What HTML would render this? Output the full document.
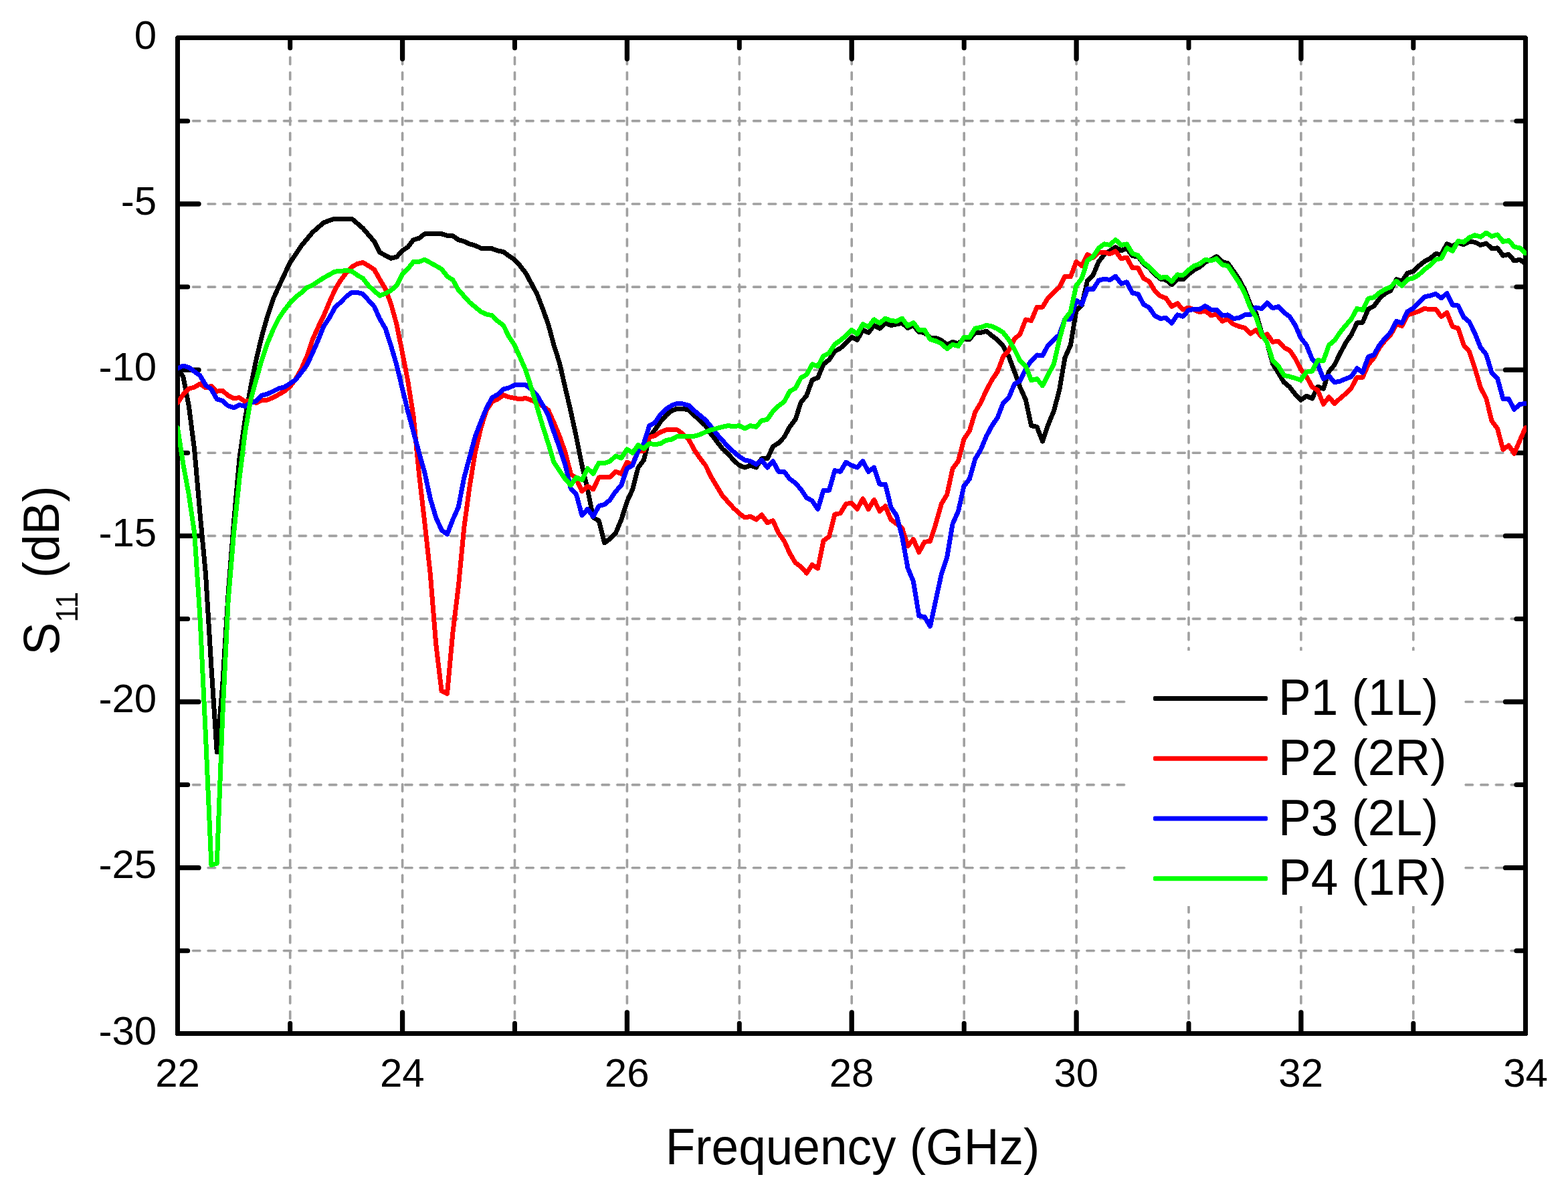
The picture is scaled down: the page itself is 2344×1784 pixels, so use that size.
<!DOCTYPE html>
<html lang="en"><head><meta charset="utf-8">
<title>S11 (dB) vs Frequency (GHz)</title>
<style>
html,body{margin:0;padding:0;background:#fff;}
body{width:2344px;height:1784px;overflow:hidden;}
svg{display:block;}
text{font-family:"Liberation Sans", sans-serif;fill:#000;}
.tk{font-size:60px;}
.lb{font-size:73px;}
.lg{font-size:73px;}
.grid line{stroke:#a0a0a0;stroke-width:3.6;stroke-dasharray:12.4 10.25;fill:none;}
.tip line{stroke-width:1.4;stroke-dasharray:14.20 8.45;}
.ticks line{stroke:#000;stroke-width:7;stroke-linecap:round;}
.ticks line.mj{stroke-width:7.3;}
.curve{fill:none;stroke-width:7;stroke-linejoin:round;stroke-linecap:round;}
.lgl line{stroke-width:7;stroke-linecap:round;}
</style></head><body>
<svg width="2344" height="1784" viewBox="0 0 2344 1784" role="img" aria-label="S11 versus frequency for ports P1 to P4">
<rect x="0" y="0" width="2344" height="1784" fill="#fff"/>
<g class="grid">
<line x1="433.7" y1="56.5" x2="433.7" y2="1545.5" stroke-dashoffset="-5.50"/>
<line x1="601.6" y1="56.5" x2="601.6" y2="1545.5" stroke-dashoffset="-5.50"/>
<line x1="769.5" y1="56.5" x2="769.5" y2="1545.5" stroke-dashoffset="-5.50"/>
<line x1="937.4" y1="56.5" x2="937.4" y2="1545.5" stroke-dashoffset="-5.50"/>
<line x1="1105.3" y1="56.5" x2="1105.3" y2="1545.5" stroke-dashoffset="-5.50"/>
<line x1="1273.2" y1="56.5" x2="1273.2" y2="1545.5" stroke-dashoffset="-5.50"/>
<line x1="1441.2" y1="56.5" x2="1441.2" y2="1545.5" stroke-dashoffset="-5.50"/>
<line x1="1609.1" y1="56.5" x2="1609.1" y2="1545.5" stroke-dashoffset="-5.50"/>
<line x1="1777" y1="56.5" x2="1777" y2="1545.5" stroke-dashoffset="-5.50"/>
<line x1="1944.9" y1="56.5" x2="1944.9" y2="1545.5" stroke-dashoffset="-5.50"/>
<line x1="2112.8" y1="56.5" x2="2112.8" y2="1545.5" stroke-dashoffset="-5.50"/>
<line x1="265.5" y1="180.9" x2="2280.5" y2="180.9" stroke-dashoffset="0.65"/>
<line x1="265.5" y1="305" x2="2280.5" y2="305" stroke-dashoffset="0.65"/>
<line x1="265.5" y1="429.1" x2="2280.5" y2="429.1" stroke-dashoffset="0.65"/>
<line x1="265.5" y1="553.2" x2="2280.5" y2="553.2" stroke-dashoffset="0.65"/>
<line x1="265.5" y1="677.3" x2="2280.5" y2="677.3" stroke-dashoffset="0.65"/>
<line x1="265.5" y1="801.4" x2="2280.5" y2="801.4" stroke-dashoffset="0.65"/>
<line x1="265.5" y1="925.4" x2="2280.5" y2="925.4" stroke-dashoffset="0.65"/>
<line x1="265.5" y1="1049.5" x2="2280.5" y2="1049.5" stroke-dashoffset="0.65"/>
<line x1="265.5" y1="1173.6" x2="2280.5" y2="1173.6" stroke-dashoffset="0.65"/>
<line x1="265.5" y1="1297.7" x2="2280.5" y2="1297.7" stroke-dashoffset="0.65"/>
<line x1="265.5" y1="1421.8" x2="2280.5" y2="1421.8" stroke-dashoffset="0.65"/>
</g>
<g class="grid tip">
<line x1="433.7" y1="56.5" x2="433.7" y2="1545.5" stroke-dashoffset="-4.60"/>
<line x1="601.6" y1="56.5" x2="601.6" y2="1545.5" stroke-dashoffset="-4.60"/>
<line x1="769.5" y1="56.5" x2="769.5" y2="1545.5" stroke-dashoffset="-4.60"/>
<line x1="937.4" y1="56.5" x2="937.4" y2="1545.5" stroke-dashoffset="-4.60"/>
<line x1="1105.3" y1="56.5" x2="1105.3" y2="1545.5" stroke-dashoffset="-4.60"/>
<line x1="1273.2" y1="56.5" x2="1273.2" y2="1545.5" stroke-dashoffset="-4.60"/>
<line x1="1441.2" y1="56.5" x2="1441.2" y2="1545.5" stroke-dashoffset="-4.60"/>
<line x1="1609.1" y1="56.5" x2="1609.1" y2="1545.5" stroke-dashoffset="-4.60"/>
<line x1="1777" y1="56.5" x2="1777" y2="1545.5" stroke-dashoffset="-4.60"/>
<line x1="1944.9" y1="56.5" x2="1944.9" y2="1545.5" stroke-dashoffset="-4.60"/>
<line x1="2112.8" y1="56.5" x2="2112.8" y2="1545.5" stroke-dashoffset="-4.60"/>
<line x1="265.5" y1="180.9" x2="2280.5" y2="180.9" stroke-dashoffset="1.55"/>
<line x1="265.5" y1="305" x2="2280.5" y2="305" stroke-dashoffset="1.55"/>
<line x1="265.5" y1="429.1" x2="2280.5" y2="429.1" stroke-dashoffset="1.55"/>
<line x1="265.5" y1="553.2" x2="2280.5" y2="553.2" stroke-dashoffset="1.55"/>
<line x1="265.5" y1="677.3" x2="2280.5" y2="677.3" stroke-dashoffset="1.55"/>
<line x1="265.5" y1="801.4" x2="2280.5" y2="801.4" stroke-dashoffset="1.55"/>
<line x1="265.5" y1="925.4" x2="2280.5" y2="925.4" stroke-dashoffset="1.55"/>
<line x1="265.5" y1="1049.5" x2="2280.5" y2="1049.5" stroke-dashoffset="1.55"/>
<line x1="265.5" y1="1173.6" x2="2280.5" y2="1173.6" stroke-dashoffset="1.55"/>
<line x1="265.5" y1="1297.7" x2="2280.5" y2="1297.7" stroke-dashoffset="1.55"/>
<line x1="265.5" y1="1421.8" x2="2280.5" y2="1421.8" stroke-dashoffset="1.55"/>
</g>
<rect x="1683" y="973" width="506" height="382" fill="#fff"/>
<rect x="265.5" y="56.5" width="2015" height="1489" fill="none" stroke="#000" stroke-width="7" stroke-linejoin="round" shape-rendering="crispEdges"/>
<g class="ticks">
<line x1="433.7" y1="1542.5" x2="433.7" y2="1530.3"/>
<line x1="433.7" y1="59.5" x2="433.7" y2="71.7"/>
<line class="mj" x1="601.6" y1="1542.5" x2="601.6" y2="1514"/>
<line class="mj" x1="601.6" y1="59.5" x2="601.6" y2="88"/>
<line x1="769.5" y1="1542.5" x2="769.5" y2="1530.3"/>
<line x1="769.5" y1="59.5" x2="769.5" y2="71.7"/>
<line class="mj" x1="937.4" y1="1542.5" x2="937.4" y2="1514"/>
<line class="mj" x1="937.4" y1="59.5" x2="937.4" y2="88"/>
<line x1="1105.3" y1="1542.5" x2="1105.3" y2="1530.3"/>
<line x1="1105.3" y1="59.5" x2="1105.3" y2="71.7"/>
<line class="mj" x1="1273.2" y1="1542.5" x2="1273.2" y2="1514"/>
<line class="mj" x1="1273.2" y1="59.5" x2="1273.2" y2="88"/>
<line x1="1441.2" y1="1542.5" x2="1441.2" y2="1530.3"/>
<line x1="1441.2" y1="59.5" x2="1441.2" y2="71.7"/>
<line class="mj" x1="1609.1" y1="1542.5" x2="1609.1" y2="1514"/>
<line class="mj" x1="1609.1" y1="59.5" x2="1609.1" y2="88"/>
<line x1="1777" y1="1542.5" x2="1777" y2="1530.3"/>
<line x1="1777" y1="59.5" x2="1777" y2="71.7"/>
<line class="mj" x1="1944.9" y1="1542.5" x2="1944.9" y2="1514"/>
<line class="mj" x1="1944.9" y1="59.5" x2="1944.9" y2="88"/>
<line x1="2112.8" y1="1542.5" x2="2112.8" y2="1530.3"/>
<line x1="2112.8" y1="59.5" x2="2112.8" y2="71.7"/>
<line x1="268.5" y1="180.9" x2="280.7" y2="180.9"/>
<line x1="2277.5" y1="180.9" x2="2266.8" y2="180.9"/>
<line class="mj" x1="268.5" y1="305" x2="297" y2="305"/>
<line class="mj" x1="2277.5" y1="305" x2="2250.5" y2="305"/>
<line x1="268.5" y1="429.1" x2="280.7" y2="429.1"/>
<line x1="2277.5" y1="429.1" x2="2266.8" y2="429.1"/>
<line class="mj" x1="268.5" y1="553.2" x2="297" y2="553.2"/>
<line class="mj" x1="2277.5" y1="553.2" x2="2250.5" y2="553.2"/>
<line x1="268.5" y1="677.3" x2="280.7" y2="677.3"/>
<line x1="2277.5" y1="677.3" x2="2266.8" y2="677.3"/>
<line class="mj" x1="268.5" y1="801.4" x2="297" y2="801.4"/>
<line class="mj" x1="2277.5" y1="801.4" x2="2250.5" y2="801.4"/>
<line x1="268.5" y1="925.4" x2="280.7" y2="925.4"/>
<line x1="2277.5" y1="925.4" x2="2266.8" y2="925.4"/>
<line class="mj" x1="268.5" y1="1049.5" x2="297" y2="1049.5"/>
<line class="mj" x1="2277.5" y1="1049.5" x2="2250.5" y2="1049.5"/>
<line x1="268.5" y1="1173.6" x2="280.7" y2="1173.6"/>
<line x1="2277.5" y1="1173.6" x2="2266.8" y2="1173.6"/>
<line class="mj" x1="268.5" y1="1297.7" x2="297" y2="1297.7"/>
<line class="mj" x1="2277.5" y1="1297.7" x2="2250.5" y2="1297.7"/>
<line x1="268.5" y1="1421.8" x2="280.7" y2="1421.8"/>
<line x1="2277.5" y1="1421.8" x2="2266.8" y2="1421.8"/>
</g>
<defs><clipPath id="clip"><rect x="266" y="56.5" width="2016" height="1489"/></clipPath></defs>
<g clip-path="url(#clip)" shape-rendering="crispEdges">
<polyline class="curve" stroke="#000000" points="265.5,551.7 273.9,563.4 282.3,607 290.7,672.5 299.1,768.9 307.5,858.6 315.9,997.1 324.3,1125 332.7,1023.9 341.1,888.3 349.5,781.1 357.9,685.9 366.3,626.8 374.6,579.6 383,537.9 391.4,502.7 399.8,472.9 408.2,447.6 416.6,428.8 425,410.8 433.4,392.9 441.8,380.5 450.2,367.9 458.6,357.8 467,347.7 475.4,340.3 483.8,332.9 492.2,329.9 500.6,327 509,327 517.4,327 525.8,327 534.2,334.2 542.6,341.4 551,351.2 559.4,361 567.8,377.3 576.1,382 584.5,386.2 592.9,384.3 601.3,375 609.7,369.5 618.1,358.6 626.5,356.3 634.9,349.7 643.3,349.7 651.7,349.7 660.1,349.7 668.5,352.4 676.9,352.7 685.3,358.6 693.7,361 702.1,364.9 710.5,367.2 718.9,371.1 727.3,371.6 735.7,371.9 744.1,375 752.5,376.5 760.9,382.8 769.2,388.2 777.6,397.6 786,408.5 794.4,424.1 802.8,439.7 811.2,461.5 819.6,484.9 828,516.1 836.4,542.6 844.8,579 853.2,614.9 861.6,653.8 870,695.9 878.4,731.8 886.8,773.9 895.2,778.6 903.6,811.8 912,805.6 920.4,797.3 928.8,777 937.2,750.5 945.6,731.8 954,699.1 962.4,688.1 970.7,653.8 979.1,642.9 987.5,630.5 995.9,621.1 1004.3,614.1 1012.7,611 1021.1,611 1029.5,613.3 1037.9,621.1 1046.3,628.9 1054.7,636.7 1063.1,649.2 1071.5,660.1 1079.9,671 1088.3,678.8 1096.7,688.1 1105.1,695.9 1113.5,699.1 1121.9,695.9 1130.3,699.1 1138.7,685.8 1147.1,685.8 1155.5,667.9 1163.9,662.4 1172.2,653.8 1180.6,638.3 1189,627.3 1197.4,601.6 1205.8,591.4 1214.2,568.1 1222.6,564.9 1231,544.7 1239.4,538.1 1247.8,525.5 1256.2,520.8 1264.6,513 1273,504 1281.4,508.3 1289.8,493.5 1298.2,497.4 1306.6,486.5 1315,491.1 1323.4,483.3 1331.8,486.5 1340.2,484.9 1348.6,483.3 1357,490.4 1365.4,486.5 1373.8,496.6 1382.1,497.4 1390.5,505.2 1398.9,505.2 1407.3,509.1 1415.7,515.3 1424.1,511.4 1432.5,513.8 1440.9,506.8 1449.3,507.5 1457.7,497.4 1466.1,497.4 1474.5,495.1 1482.9,502.1 1491.3,508.3 1499.7,517.7 1508.1,533.3 1516.5,555.6 1524.9,579 1533.3,597.7 1541.7,636.7 1550.1,638.3 1558.5,660.1 1566.9,635.1 1575.3,614.9 1583.6,583.7 1592,534.8 1600.4,516.1 1608.8,464.6 1617.2,456.8 1625.6,419.4 1634,411.6 1642.4,391.4 1650.8,380.5 1659.2,375 1667.6,369.5 1676,375 1684.4,371.1 1692.8,382.8 1701.2,383.6 1709.6,394.5 1718,400.7 1726.4,410.1 1734.8,417.1 1743.2,418.6 1751.6,425.7 1760,417.9 1768.4,417.9 1776.8,410.1 1785.1,403.8 1793.5,399.2 1801.9,392.1 1810.3,388.2 1818.7,383.6 1827.1,391.4 1835.5,393.7 1843.9,405.4 1852.3,417.9 1860.7,433.5 1869.1,455.3 1877.5,467.8 1885.9,497.4 1894.3,513 1902.7,544.2 1911.1,557.8 1919.5,571.7 1927.9,578.7 1936.3,589.6 1944.7,598.2 1953.1,592.2 1961.5,596 1969.9,578.2 1978.3,581.4 1986.6,555.7 1995,545.6 2003.4,528.3 2011.8,512.6 2020.2,500.4 2028.6,483 2037,482.2 2045.4,462.2 2053.8,457.8 2062.2,446.5 2070.6,438.7 2079,434.4 2087.4,417.8 2095.8,420.4 2104.2,408.3 2112.6,405.7 2121,397.8 2129.4,390.9 2137.8,386.5 2146.2,379.6 2154.6,380.5 2163,364.8 2171.4,368.2 2179.8,363 2188.1,365.7 2196.5,361.3 2204.9,362.2 2213.3,366.5 2221.7,363.9 2230.1,371.7 2238.5,370.9 2246.9,382.2 2255.3,380.5 2263.7,390 2272.1,388.2 2280.5,394.4"/>
<polyline class="curve" stroke="#ff0000" points="265.5,602.4 273.9,589.9 282.3,581.3 290.7,579 299.1,574 307.5,579.8 315.9,577.4 324.3,585.2 332.7,584.4 341.1,591.4 349.5,595.8 357.9,594.6 366.3,600.5 374.6,598.5 383,602.4 391.4,598.5 399.8,598 408.2,594.6 416.6,589.9 425,585.2 433.4,578.2 441.8,567.3 450.2,552.5 458.6,533.3 467,508.3 475.4,489.6 483.8,472.4 492.2,452.2 500.6,433.5 509,419.4 517.4,408.5 525.8,399.2 534.2,394.5 542.6,392.6 551,397.6 559.4,403 567.8,417.9 576.1,431.9 584.5,454.5 592.9,484.8 601.3,526.5 609.7,569.6 618.1,622.7 626.5,709.2 634.9,781.7 643.3,858.6 651.7,963.1 660.1,1033.3 668.5,1037.2 676.9,945.9 685.3,877.3 693.7,789.5 702.1,727.1 710.5,675.7 718.9,639.8 727.3,613.3 735.7,600.8 744.1,596.9 752.5,590.7 760.9,593.8 769.2,595.4 777.6,596.9 786,595.4 794.4,598.5 802.8,602.4 811.2,607 819.6,613.3 828,632 836.4,652.3 844.8,675.7 853.2,708.4 861.6,716.2 870,734.9 878.4,727.1 886.8,731.8 895.2,713.9 903.6,713.9 912,713.1 920.4,705.3 928.8,708.4 937.2,691.3 945.6,694.4 954,674.1 962.4,674.1 970.7,653.8 979.1,651.5 987.5,646 995.9,642.9 1004.3,642.1 1012.7,642.9 1021.1,649.2 1029.5,657 1037.9,672.5 1046.3,685 1054.7,695.9 1063.1,713.1 1071.5,727.1 1079.9,741.1 1088.3,750.5 1096.7,759.9 1105.1,767.6 1113.5,773.9 1121.9,772.4 1130.3,777 1138.7,770 1147.1,781.7 1155.5,778.6 1163.9,797.3 1172.2,808.7 1180.6,827.4 1189,841.5 1197.4,847.7 1205.8,857 1214.2,844.6 1222.6,850 1231,808.7 1239.4,802.5 1247.8,769.2 1256.2,767.6 1264.6,753.6 1273,752.1 1281.4,761.4 1289.8,745.9 1298.2,761.4 1306.6,747.4 1315,764.6 1323.4,756.8 1331.8,777 1340.2,783.3 1348.6,789.5 1357,816.5 1365.4,806.4 1373.8,825.9 1382.1,810.3 1390.5,809.5 1398.9,783.3 1407.3,753.6 1415.7,739.6 1424.1,700.6 1432.5,689.7 1440.9,657 1449.3,644.5 1457.7,616.4 1466.1,602.4 1474.5,583.7 1482.9,568.1 1491.3,555.6 1499.7,533.3 1508.1,523.9 1516.5,506.8 1524.9,499.7 1533.3,477.9 1541.7,479.5 1550.1,459.2 1558.5,459.2 1566.9,445.2 1575.3,437.4 1583.6,429.5 1592,413.2 1600.4,414 1608.8,391.4 1617.2,397.6 1625.6,380.5 1634,385.1 1642.4,377.3 1650.8,377.3 1659.2,379.7 1667.6,375.7 1676,386.7 1684.4,385.1 1692.8,400.7 1701.2,400.7 1709.6,416.3 1718,421 1726.4,435 1734.8,442.8 1743.2,445.9 1751.6,458.4 1760,453.7 1768.4,463.1 1776.8,460 1785.1,463.1 1793.5,467 1801.9,464.6 1810.3,471.7 1818.7,470.1 1827.1,480.3 1835.5,477.1 1843.9,484.9 1852.3,488.1 1860.7,490.4 1869.1,499 1877.5,493.5 1885.9,503.6 1894.3,499.7 1902.7,511.4 1911.1,510 1919.5,519.6 1927.9,523.9 1936.3,536.1 1944.7,552.6 1953.1,563.1 1961.5,578.7 1969.9,583.5 1978.3,604.4 1986.6,593.9 1995,603.5 2003.4,595.7 2011.8,588.7 2020.2,580 2028.6,564.3 2037,564.3 2045.4,545.2 2053.8,535.2 2062.2,519.6 2070.6,509.1 2079,500.4 2087.4,484.8 2095.8,487.4 2104.2,470.9 2112.6,468.3 2121,465.6 2129.4,461.3 2137.8,463 2146.2,462.2 2154.6,473.5 2163,467.4 2171.4,488.3 2179.8,490.9 2188.1,516.1 2196.5,525.6 2204.9,550.8 2213.3,579.6 2221.7,595.7 2230.1,629.6 2238.5,640.9 2246.9,672.2 2255.3,666.1 2263.7,678.3 2272.1,658.3 2280.5,639.7"/>
<polyline class="curve" stroke="#0000ff" points="265.5,550.9 273.9,547 282.3,549.4 290.7,555.6 299.1,561.8 307.5,575.9 315.9,582.1 324.3,596.9 332.7,599.2 341.1,607 349.5,609.7 357.9,605.5 366.3,607.5 374.6,602.4 383,600 391.4,591.4 399.8,589.1 408.2,585.2 416.6,580.9 425,579 433.4,573.5 441.8,568.1 450.2,557.2 458.6,546.2 467,528.3 475.4,509.2 483.8,488.1 492.2,475.6 500.6,460 509,452.2 517.4,443.6 525.8,437.4 534.2,437.4 542.6,439.7 551,449.1 559.4,458.4 567.8,477.1 576.1,491.1 584.5,516.9 592.9,545.8 601.3,580.5 609.7,614.9 618.1,646 626.5,677.2 634.9,706.8 643.3,745.9 651.7,773.9 660.1,792.6 668.5,798.9 676.9,777 685.3,758.3 693.7,714.6 702.1,683.5 710.5,652.3 718.9,630.5 727.3,610.2 735.7,594.6 744.1,589.9 752.5,582.1 760.9,579.8 769.2,575.9 777.6,575.9 786,575.9 794.4,582.1 802.8,591.4 811.2,605.5 819.6,621.1 828,646 836.4,669.4 844.8,694.4 853.2,730.2 861.6,739.6 870,770.8 878.4,761.4 886.8,772.4 895.2,756.8 903.6,754.4 912,747.4 920.4,734.9 928.8,725.6 937.2,700.6 945.6,695.9 954,674.1 962.4,663.2 970.7,636.7 979.1,632 987.5,619.5 995.9,611.7 1004.3,606.3 1012.7,603.2 1021.1,604 1029.5,606.3 1037.9,614.1 1046.3,621.1 1054.7,628.1 1063.1,638.3 1071.5,649.2 1079.9,658.5 1088.3,667.9 1096.7,675.7 1105.1,682.7 1113.5,688.1 1121.9,689.7 1130.3,694.4 1138.7,688.1 1147.1,699.1 1155.5,689.7 1163.9,705.3 1172.2,705.3 1180.6,716.2 1189,722.4 1197.4,731.8 1205.8,744.3 1214.2,748.9 1222.6,761.4 1231,733.3 1239.4,733.3 1247.8,703.7 1256.2,705.3 1264.6,691.3 1273,695.9 1281.4,699.1 1289.8,689.7 1298.2,705.3 1306.6,699.1 1315,724 1323.4,724 1331.8,758.3 1340.2,770.8 1348.6,802.5 1357,849.2 1365.4,869.5 1373.8,921 1382.1,922.6 1390.5,936.6 1398.9,897.6 1407.3,858.6 1415.7,833.7 1424.1,783.3 1432.5,764.6 1440.9,727.1 1449.3,716.2 1457.7,686.6 1466.1,672.5 1474.5,652.3 1482.9,636.7 1491.3,624.2 1499.7,602.4 1508.1,594.6 1516.5,574.3 1524.9,569.6 1533.3,551.7 1541.7,539.5 1550.1,530.9 1558.5,531.7 1566.9,516.1 1575.3,508.3 1583.6,500.5 1592,477.1 1600.4,477.1 1608.8,449.1 1617.2,455.3 1625.6,431.9 1634,432.7 1642.4,419.4 1650.8,417.1 1659.2,418.6 1667.6,413.2 1676,424.1 1684.4,421.8 1692.8,438.1 1701.2,439.7 1709.6,455.3 1718,460 1726.4,472.4 1734.8,476.3 1743.2,475.6 1751.6,483.3 1760,470.9 1768.4,473.2 1776.8,463.9 1785.1,462.3 1793.5,462.3 1801.9,457.6 1810.3,463.1 1818.7,463.1 1827.1,471.7 1835.5,470.9 1843.9,476.3 1852.3,475.6 1860.7,470.9 1869.1,470.9 1877.5,460 1885.9,461.5 1894.3,453 1902.7,460.8 1911.1,458.7 1919.5,467.4 1927.9,473.5 1936.3,486.5 1944.7,505.6 1953.1,516.1 1961.5,537 1969.9,544.8 1978.3,566.5 1986.6,562.2 1995,571.7 2003.4,570 2011.8,566.5 2020.2,563.1 2028.6,550.8 2037,557 2045.4,533.5 2053.8,530.8 2062.2,516.1 2070.6,505.6 2079,496.9 2087.4,480.4 2095.8,483 2104.2,465.6 2112.6,461.3 2121,452.6 2129.4,443.9 2137.8,442.2 2146.2,439.6 2154.6,445.7 2163,438.7 2171.4,456.1 2179.8,456.9 2188.1,474.4 2196.5,481.3 2204.9,498.7 2213.3,519.6 2221.7,530 2230.1,557.8 2238.5,565.6 2246.9,596.5 2255.3,596.5 2263.7,612.2 2272.1,604.4 2280.5,603.5"/>
<polyline class="curve" stroke="#00ff00" points="265.5,639.8 273.9,694.4 282.3,739.6 290.7,797.3 299.1,924.9 307.5,1101.3 315.9,1293.4 324.3,1291.1 332.7,1071.2 341.1,899.2 349.5,797.5 357.9,716.2 366.3,647.1 374.6,598.5 383,567.7 391.4,537.9 399.8,513.1 408.2,493.3 416.6,476.4 425,464 433.4,453.1 441.8,444.4 450.2,438.1 458.6,430.3 467,426.5 475.4,421 483.8,415.5 492.2,410.8 500.6,406.2 509,405.4 517.4,404.6 525.8,405.4 534.2,411.6 542.6,416.3 551,427.2 559.4,435 567.8,442.1 576.1,438.9 584.5,434.3 592.9,427.2 601.3,410.1 609.7,402.3 618.1,391.4 626.5,391.4 634.9,388.2 643.3,392.9 651.7,397.6 660.1,402.3 668.5,413.2 676.9,418.6 685.3,433.5 693.7,442.8 702.1,452.2 710.5,459.2 718.9,466.2 727.3,470.1 735.7,471.7 744.1,480.3 752.5,486.5 760.9,503.6 769.2,516.1 777.6,534.8 786,554 794.4,580.5 802.8,608.6 811.2,636.7 819.6,663.2 828,691.3 836.4,703.7 844.8,716.2 853.2,725.6 861.6,713.9 870,717.8 878.4,700.6 886.8,708.4 895.2,692.1 903.6,692.8 912,689.7 920.4,681.9 928.8,685 937.2,671.8 945.6,677.2 954,665.6 962.4,671 970.7,663.2 979.1,664.8 987.5,663.2 995.9,658.5 1004.3,657 1012.7,652.3 1021.1,653 1029.5,652.3 1037.9,652.3 1046.3,649.9 1054.7,646 1063.1,642.9 1071.5,640.6 1079.9,638.3 1088.3,636.7 1096.7,637.5 1105.1,636.7 1113.5,640.6 1121.9,636.7 1130.3,638.3 1138.7,628.9 1147.1,627.3 1155.5,614.9 1163.9,607 1172.2,600.8 1180.6,585.2 1189,580.5 1197.4,564.9 1205.8,560.3 1214.2,544.7 1222.6,547.8 1231,532.3 1239.4,528 1247.8,514.9 1256.2,509.1 1264.6,502.1 1273,493.5 1281.4,499.7 1289.8,484.9 1298.2,488.8 1306.6,477.9 1315,483.3 1323.4,476.3 1331.8,479.5 1340.2,480.3 1348.6,476.3 1357,487.3 1365.4,482.6 1373.8,493.5 1382.1,493.5 1390.5,507.5 1398.9,509.9 1407.3,513.8 1415.7,521.6 1424.1,515.3 1432.5,517.7 1440.9,504.4 1449.3,504.4 1457.7,491.1 1466.1,489.6 1474.5,486.5 1482.9,488.1 1491.3,491.9 1499.7,497.4 1508.1,508.3 1516.5,522.4 1524.9,539.5 1533.3,547.3 1541.7,568.9 1550.1,566.5 1558.5,576.7 1566.9,560.3 1575.3,544.7 1583.6,508.3 1592,477.1 1600.4,466.2 1608.8,427.2 1617.2,416.3 1625.6,389.8 1634,383.6 1642.4,371.1 1650.8,364.9 1659.2,366.4 1667.6,358.6 1676,366.4 1684.4,364.9 1692.8,378.9 1701.2,382 1709.6,392.9 1718,399.2 1726.4,407.8 1734.8,415.5 1743.2,414 1751.6,421 1760,410.8 1768.4,411.6 1776.8,403.8 1785.1,397.6 1793.5,394.5 1801.9,388.2 1810.3,389.8 1818.7,386.7 1827.1,396 1835.5,397.6 1843.9,410.1 1852.3,422.5 1860.7,438.1 1869.1,460 1877.5,474 1885.9,499 1894.3,513 1902.7,539.5 1911.1,547.4 1919.5,561.3 1927.9,563.1 1936.3,565.6 1944.7,568.3 1953.1,556.1 1961.5,555.2 1969.9,538.7 1978.3,539.6 1986.6,516.1 1995,509.1 2003.4,496.9 2011.8,486.5 2020.2,476.9 2028.6,461.3 2037,463.9 2045.4,446.5 2053.8,444.8 2062.2,437.8 2070.6,432.6 2079,429.1 2087.4,420.4 2095.8,427.4 2104.2,417.8 2112.6,416.1 2121,410.9 2129.4,403 2137.8,396.9 2146.2,388.2 2154.6,386.5 2163,370.9 2171.4,375.2 2179.8,360.5 2188.1,362.2 2196.5,355.2 2204.9,351.7 2213.3,354.3 2221.7,348.2 2230.1,353.5 2238.5,350.9 2246.9,361.3 2255.3,359.6 2263.7,369.1 2272.1,370.9 2280.5,378.7"/>
</g>
<g class="tk" text-anchor="middle">
<text x="265.5" y="1625">22</text>
<text x="601.3" y="1625">24</text>
<text x="937.2" y="1625">26</text>
<text x="1273" y="1625">28</text>
<text x="1608.8" y="1625">30</text>
<text x="1944.7" y="1625">32</text>
<text x="2280.5" y="1625">34</text>
</g>
<g class="tk" text-anchor="end">
<text x="234.2" y="72.5">0</text>
<text x="234.2" y="320.7">-5</text>
<text x="234.2" y="568.8">-10</text>
<text x="234.2" y="817">-15</text>
<text x="234.2" y="1065.2">-20</text>
<text x="234.2" y="1313.3">-25</text>
<text x="234.2" y="1561.5">-30</text>
</g>
<text class="lb" transform="translate(1274.5 1741.1) scale(1 1.05)" text-anchor="middle">Frequency (GHz)</text>
<text class="lb" transform="translate(88 853) rotate(-90) scale(1 1.05)" text-anchor="middle">S<tspan font-size="44.5" dy="27">11</tspan><tspan dy="-27"> (dB)</tspan></text>
<g class="lgl">
<rect x="1724" y="1041" width="171" height="7" rx="2" fill="#000000"/>
<rect x="1724" y="1130.8" width="171" height="7" rx="2" fill="#ff0000"/>
<rect x="1724" y="1220.5" width="171" height="7" rx="2" fill="#0000ff"/>
<rect x="1724" y="1310.2" width="171" height="7" rx="2" fill="#00ff00"/>
</g>
<g class="lg">
<text transform="translate(1911 1069) scale(1 1.05)">P1 (1L)</text>
<text transform="translate(1911 1158.8) scale(1 1.05)">P2 (2R)</text>
<text transform="translate(1911 1248.5) scale(1 1.05)">P3 (2L)</text>
<text transform="translate(1911 1338.2) scale(1 1.05)">P4 (1R)</text>
</g>
</svg>
</body></html>
